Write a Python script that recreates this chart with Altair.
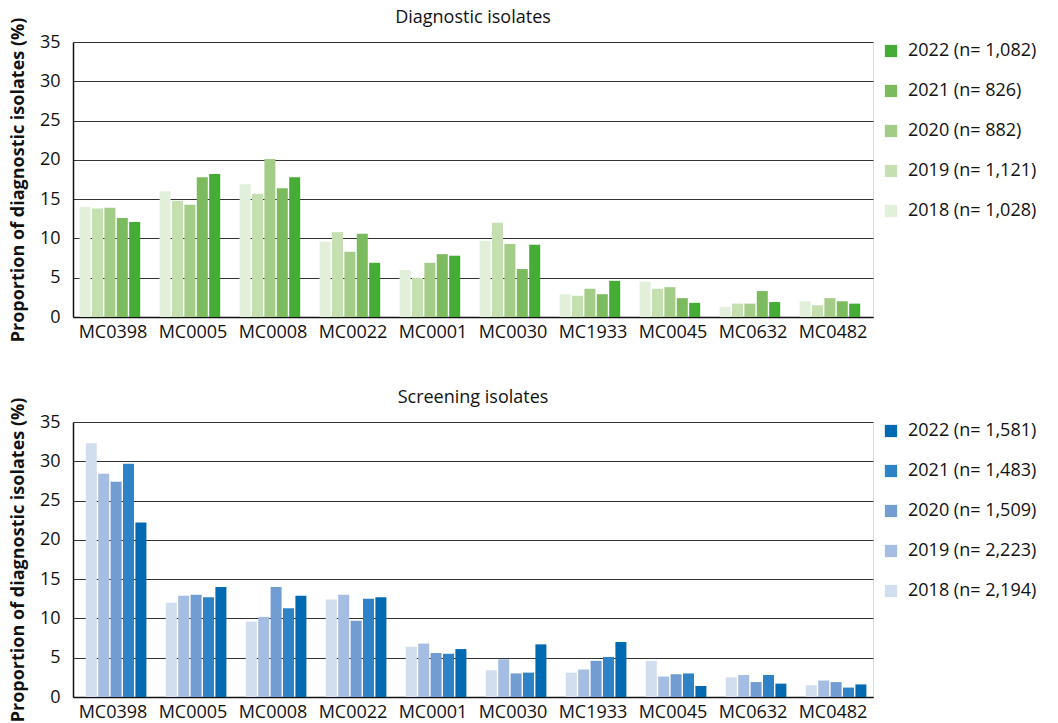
import altair as alt
import pandas as pd

FONT = "Open Sans"

categories = ["MC0398", "MC0005", "MC0008", "MC0022", "MC0001",
              "MC0030", "MC1933", "MC0045", "MC0632", "MC0482"]
years = ["2018", "2019", "2020", "2021", "2022"]

diag_labels = ["2018 (n= 1,028)", "2019 (n= 1,121)", "2020 (n= 882)",
               "2021 (n= 826)", "2022 (n= 1,082)"]
screen_labels = ["2018 (n= 2,194)", "2019 (n= 2,223)", "2020 (n= 1,509)",
                 "2021 (n= 1,483)", "2022 (n= 1,581)"]

diag_2018 = [14.0, 16.0, 16.9, 9.6, 6.0, 9.7, 2.9, 4.5, 1.3, 2.0]
diag_2019 = [13.8, 14.8, 15.7, 10.8, 5.0, 12.0, 2.7, 3.6, 1.7, 1.5]
diag_2020 = [13.9, 14.3, 20.1, 8.3, 6.9, 9.3, 3.6, 3.8, 1.7, 2.4]
diag_2021 = [12.6, 17.8, 16.4, 10.6, 8.0, 6.1, 2.9, 2.4, 3.3, 2.0]
diag_2022 = [12.1, 18.2, 17.8, 6.9, 7.8, 9.2, 4.6, 1.8, 1.9, 1.7]

scr_2018 = [32.3, 12.0, 9.6, 12.4, 6.4, 3.4, 3.1, 4.6, 2.5, 1.5]
scr_2019 = [28.4, 12.9, 10.2, 13.0, 6.8, 4.8, 3.5, 2.6, 2.8, 2.1]
scr_2020 = [27.4, 13.0, 14.0, 9.7, 5.6, 3.0, 4.6, 2.9, 1.9, 1.9]
scr_2021 = [29.7, 12.7, 11.3, 12.5, 5.5, 3.1, 5.1, 3.0, 2.8, 1.2]
scr_2022 = [22.2, 14.0, 12.9, 12.7, 6.1, 6.7, 7.0, 1.4, 1.7, 1.6]

green = ["#e2efdb", "#c5dfb0", "#a3cc87", "#7bbb5d", "#45ad35"]
blue = ["#d3ddf0", "#a5bde3", "#729dd3", "#2e83c6", "#0069b4"]

y_title = "Proportion of diagnostic isolates (%)"


def make_df(series, labels):
    rows = []
    for lab, vals in zip(labels, series):
        for c, v in zip(categories, vals):
            rows.append({"cat": c, "label": lab, "value": v})
    return pd.DataFrame(rows)


df_diag = make_df([diag_2018, diag_2019, diag_2020, diag_2021, diag_2022], diag_labels)
df_scr = make_df([scr_2018, scr_2019, scr_2020, scr_2021, scr_2022], screen_labels)


def panel(df, title, labels, colors):
    return alt.Chart(
        df,
        title=alt.TitleParams(title, fontSize=18, fontWeight="normal", font=FONT,
                              color="#111", offset=-10, frame="group"),
    ).mark_bar(width=11).encode(
        x=alt.X("cat:N", sort=categories, title=None,
                scale=alt.Scale(paddingInner=0.225, paddingOuter=0.1125),
                axis=alt.Axis(labelAngle=0, ticks=False, domain=True, domainColor="#111",
                              domainWidth=1.5, labelFontSize=18, labelPadding=6,
                              labelColor="#111", labelFont=FONT)),
        xOffset=alt.XOffset("label:N", sort=labels,
                            scale=alt.Scale(paddingInner=0, paddingOuter=0)),
        y=alt.Y("value:Q", title=y_title,
                scale=alt.Scale(domain=[0, 35], nice=False),
                axis=alt.Axis(values=[0, 5, 10, 15, 20, 25, 30, 35], ticks=False,
                              domain=True, domainColor="#111", domainWidth=1.5,
                              grid=True, gridColor="#333", gridWidth=1,
                              labelFontSize=18, labelPadding=13, labelColor="#111",
                              labelFont=FONT, titleFontSize=18, titleFontWeight="bold",
                              titleFont=FONT, titleColor="#111", titlePadding=12)),
        color=alt.Color("label:N",
                        scale=alt.Scale(domain=labels[::-1], range=colors[::-1]),
                        legend=alt.Legend(title=None, orient="right", offset=9,
                                          symbolType="square", symbolSize=150,
                                          symbolStrokeWidth=0, labelFontSize=18,
                                          labelFont=FONT, labelColor="#111",
                                          rowPadding=22, labelOffset=8, padding=0)),
    ).properties(width=800, height=275)


top = panel(df_diag, "Diagnostic isolates", diag_labels, green)
bottom = panel(df_scr, "Screening isolates", screen_labels, blue)

chart = alt.vconcat(top, bottom, spacing=45).resolve_scale(color="independent").configure_view(
    stroke=None
).configure(font=FONT, padding=0)

chart.save("out.html", embed_options={"renderer": "svg", "actions": False})
